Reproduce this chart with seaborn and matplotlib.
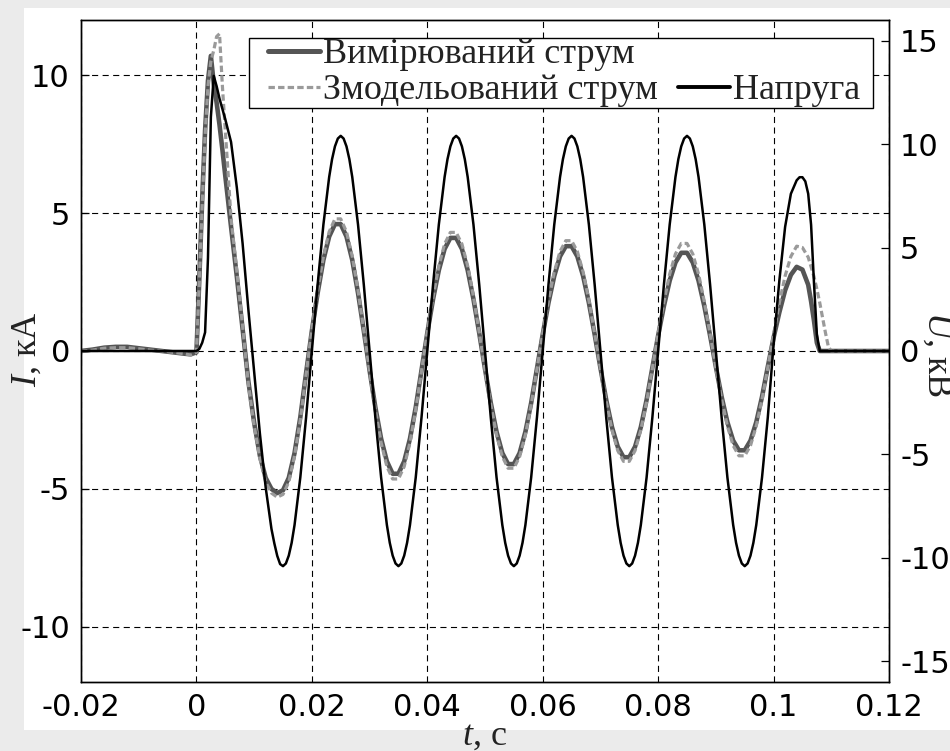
import numpy as np
import pandas as pd
import matplotlib
matplotlib.use("Agg")
import matplotlib.pyplot as plt
import seaborn as sns
from matplotlib.lines import Line2D
from matplotlib.patches import Rectangle

# ---------------- data ----------------
# currents, time in ms
t_ms = [-20, -18, -16, -14, -12, -10, -8, -6, -4, -2, -1, 0,
        0.5, 1, 1.5, 2, 2.5, 3, 3.5, 4, 4.5, 5,
        6, 7, 8, 9, 10, 11, 12, 13, 14, 15, 16, 17, 18, 19,
        20, 21, 22, 23, 24, 25, 26, 27, 28, 29,
        30, 31, 32, 33, 34, 35, 36, 37, 38, 39,
        40, 41, 42, 43, 44, 45, 46, 47, 48, 49,
        50, 51, 52, 53, 54, 55, 56, 57, 58, 59,
        60, 61, 62, 63, 64, 65, 66, 67, 68, 69,
        70, 71, 72, 73, 74, 75, 76, 77, 78, 79,
        80, 81, 82, 83, 84, 85, 86, 87, 88, 89,
        90, 91, 92, 93, 94, 95, 96, 97, 98, 99,
        100, 101, 102, 103, 104, 105, 106,
        106.5, 107, 107.5, 108, 108.5, 109, 109.5, 110, 112, 115, 120]

i_measured = [0.0, 0.05, 0.12, 0.15, 0.15, 0.1, 0.05, 0.0, -0.05, -0.1, -0.12, -0.05,
              2.6, 5.5, 8.0, 9.8, 10.7, 9.7, 9.0, 8.2, 7.3, 6.35,
              4.5, 2.7, 0.8, -1.1, -2.6, -3.8, -4.6, -5.0, -5.15, -5.05, -4.6, -3.7, -2.4, -0.8,
              0.73, 2.1, 3.3, 4.15, 4.6, 4.6, 4.15, 3.3, 2.1, 0.73,
              -0.7, -2.04, -3.18, -4.0, -4.45, -4.45, -4.0, -3.18, -2.04, -0.7,
              0.65, 1.88, 2.93, 3.7, 4.1, 4.1, 3.7, 2.93, 1.88, 0.65,
              -0.65, -1.88, -2.93, -3.7, -4.1, -4.1, -3.7, -2.93, -1.88, -0.65,
              0.6, 1.75, 2.72, 3.43, 3.8, 3.8, 3.43, 2.72, 1.75, 0.6,
              -0.61, -1.77, -2.76, -3.47, -3.85, -3.85, -3.47, -2.76, -1.77, -0.61,
              0.56, 1.63, 2.55, 3.21, 3.56, 3.56, 3.21, 2.55, 1.63, 0.56,
              -0.57, -1.66, -2.58, -3.25, -3.6, -3.6, -3.25, -2.58, -1.66, -0.57,
              0.48, 1.4, 2.2, 2.76, 3.05, 2.95, 2.4,
              1.8, 1.1, 0.3, 0, 0, 0, 0, 0, 0, 0, 0]

i_modelled = [0.0, 0.03, 0.1, 0.12, 0.12, 0.08, 0.03, 0.0, -0.05, -0.1, -0.15, -0.05,
              2.5, 5.3, 7.8, 9.6, 10.5, 10.9, 11.4, 11.5, 9.6, 8.0,
              4.8, 2.9, 0.9, -1.2, -2.7, -3.9, -4.75, -5.15, -5.3, -5.2, -4.75, -3.8, -2.5, -0.85,
              0.76, 2.2, 3.43, 4.32, 4.79, 4.79, 4.32, 3.43, 2.2, 0.76,
              -0.73, -2.13, -3.32, -4.19, -4.64, -4.64, -4.19, -3.32, -2.13, -0.73,
              0.68, 1.97, 3.08, 3.88, 4.3, 4.3, 3.88, 3.08, 1.97, 0.68,
              -0.67, -1.95, -3.04, -3.83, -4.25, -4.25, -3.83, -3.04, -1.95, -0.67,
              0.63, 1.84, 2.86, 3.61, 4.0, 4.0, 3.61, 2.86, 1.84, 0.63,
              -0.63, -1.84, -2.86, -3.61, -4.0, -4.0, -3.61, -2.86, -1.84, -0.63,
              0.62, 1.79, 2.79, 3.52, 3.9, 3.9, 3.52, 2.79, 1.79, 0.62,
              -0.6, -1.75, -2.72, -3.43, -3.8, -3.8, -3.43, -2.72, -1.75, -0.6,
              0.6, 1.75, 2.72, 3.43, 3.8, 3.75, 3.4,
              3.05, 2.7, 2.25, 1.75, 1.2, 0.65, 0.15, 0, 0, 0, 0]

# voltage, time in ms (denser around the crests)
t_u_ms = [-20, -10, 0,
          0.5, 1, 1.5, 2, 2.5, 3, 3.5, 4, 4.5, 5,
          6, 7, 8, 9, 10, 11, 12, 13, 13.5, 14, 14.5, 15, 15.5, 16, 16.5, 17, 18, 19,
          20, 21, 22, 23, 23.5, 24, 24.5, 25, 25.5, 26, 26.5, 27, 28, 29,
          30, 31, 32, 33, 33.5, 34, 34.5, 35, 35.5, 36, 36.5, 37, 38, 39,
          40, 41, 42, 43, 43.5, 44, 44.5, 45, 45.5, 46, 46.5, 47, 48, 49,
          50, 51, 52, 53, 53.5, 54, 54.5, 55, 55.5, 56, 56.5, 57, 58, 59,
          60, 61, 62, 63, 63.5, 64, 64.5, 65, 65.5, 66, 66.5, 67, 68, 69,
          70, 71, 72, 73, 73.5, 74, 74.5, 75, 75.5, 76, 76.5, 77, 78, 79,
          80, 81, 82, 83, 83.5, 84, 84.5, 85, 85.5, 86, 86.5, 87, 88, 89,
          90, 91, 92, 93, 93.5, 94, 94.5, 95, 95.5, 96, 96.5, 97, 98, 99,
          100, 101, 102, 103, 104, 104.5, 105, 105.5, 106,
          106.5, 107, 107.5, 108, 110, 120]

u_voltage = [0, 0, 0,
             0.1, 0.4, 0.9, 4.5, 11.3, 13.3, 12.8, 12.2, 11.7, 11.2,
             10.1, 7.9, 5.2, 2.0, -1.0, -4.0, -6.6, -8.6, -9.3, -9.9, -10.3, -10.4, -10.27, -9.89, -9.27, -8.41, -6.11, -3.21,
             0, 3.21, 6.11, 8.41, 9.27, 9.89, 10.27, 10.4, 10.27, 9.89, 9.27, 8.41, 6.11, 3.21,
             0, -3.21, -6.11, -8.41, -9.27, -9.89, -10.27, -10.4, -10.27, -9.89, -9.27, -8.41, -6.11, -3.21,
             0, 3.21, 6.11, 8.41, 9.27, 9.89, 10.27, 10.4, 10.27, 9.89, 9.27, 8.41, 6.11, 3.21,
             0, -3.21, -6.11, -8.41, -9.27, -9.89, -10.27, -10.4, -10.27, -9.89, -9.27, -8.41, -6.11, -3.21,
             0, 3.21, 6.11, 8.41, 9.27, 9.89, 10.27, 10.4, 10.27, 9.89, 9.27, 8.41, 6.11, 3.21,
             0, -3.21, -6.11, -8.41, -9.27, -9.89, -10.27, -10.4, -10.27, -9.89, -9.27, -8.41, -6.11, -3.21,
             0, 3.21, 6.11, 8.41, 9.27, 9.89, 10.27, 10.4, 10.27, 9.89, 9.27, 8.41, 6.11, 3.21,
             0, -3.21, -6.11, -8.41, -9.27, -9.89, -10.27, -10.4, -10.27, -9.89, -9.27, -8.41, -6.11, -3.21,
             0.3, 3.4, 6.0, 7.6, 8.25, 8.4, 8.4, 8.2, 7.6,
             6.1, 3.3, 0.8, 0, 0, 0]

x_ticks = [-0.02, 0, 0.02, 0.04, 0.06, 0.08, 0.1, 0.12]
x_ticklabels = ["-0.02", "0", "0.02", "0.04", "0.06", "0.08", "0.1", "0.12"]
yl_ticks = [-10, -5, 0, 5, 10]
yl_ticklabels = ["-10", "-5", "0", "5", "10"]
yr_ticks = [-15, -10, -5, 0, 5, 10, 15]
yr_ticklabels = ["-15", "-10", "-5", "0", "5", "10", "15"]

legend_labels = ["Вимірюваний струм", "Змодельований струм", "", "Напруга"]

# ---------------- style ----------------
sns.set_theme(style="white")
plt.rcParams["font.family"] = ["DejaVu Sans"]
plt.rcParams["mathtext.fontset"] = "custom"
plt.rcParams["mathtext.rm"] = "Liberation Serif"
plt.rcParams["mathtext.it"] = "Liberation Serif:italic"

df_i = pd.DataFrame({
    "t": np.array(t_ms) / 1000.0,
    "measured": i_measured,
    "modelled": i_modelled,
})
df_u = pd.DataFrame({"t": np.array(t_u_ms) / 1000.0, "voltage": u_voltage})

W, H = 950, 751
fig = plt.figure(figsize=(W / 100, H / 100), dpi=100, facecolor="#ebebeb")
fig.patches.append(Rectangle((24 / W, 21 / H), 926 / W, 722 / H,
                             transform=fig.transFigure, facecolor="white",
                             edgecolor="none", zorder=-5))

ax = fig.add_axes([81 / W, 69 / H, 808 / W, 662 / H])
ax.set_facecolor("white")

c_meas = "#555555"
c_model = "#9a9a9a"

sns.lineplot(data=df_i, x="t", y="measured", ax=ax, color=c_meas, lw=3.3,
             estimator=None, sort=False, legend=False)
sns.lineplot(data=df_i, x="t", y="modelled", ax=ax, color=c_model, lw=2.3,
             estimator=None, sort=False, legend=False)
ax.lines[-1].set_dashes([2.0, 1.0])

ax2 = ax.twinx()
sns.lineplot(data=df_u, x="t", y="voltage", ax=ax2, color="black", lw=1.8,
             estimator=None, sort=False, legend=False)

ax.set_xlim(-0.02, 0.12)
ax.set_ylim(-12, 12)
ax2.set_ylim(-16, 16)

ax.set_xticks(x_ticks)
ax.set_xticklabels(x_ticklabels)
ax.set_yticks(yl_ticks)
ax.set_yticklabels(yl_ticklabels)
ax2.set_yticks(yr_ticks)
ax2.set_yticklabels(yr_ticklabels)

ax.set_xlabel("")
ax.set_ylabel("")
ax2.set_ylabel("")

ax.set_axisbelow(True)
ax.grid(True, color="black", linestyle=(0, (5.5, 4.0)), linewidth=0.8)

for a in (ax, ax2):
    a.tick_params(direction="in", length=6, width=0.9, colors="black",
                  labelsize=22, pad=8)
    for s in a.spines.values():
        s.set_visible(True)
        s.set_color("black")
        s.set_linewidth(1.0)
ax.tick_params(axis="x", pad=8)

# axis labels
fig.text(27 / W, 1 - 349 / H, "$I$, кА", rotation=90, ha="center", va="center",
         fontsize=26, family="Liberation Serif", color="#222222")
fig.text(937 / W, 1 - 354 / H, "$U$, кВ", rotation=-90, ha="center", va="center",
         fontsize=26, family="Liberation Serif", color="#222222")
fig.text(485 / W, 1 - 736 / H, "$t$, с", ha="center", va="center",
         fontsize=26, family="Liberation Serif", color="#222222")

# legend: own frame + frameless legend
ax2.add_patch(Rectangle((249 / W, 1 - 108 / H), (873 - 249) / W, 70 / H,
                        transform=fig.transFigure, facecolor="white",
                        edgecolor="black", lw=1.0, zorder=4.5, clip_on=False))
handles = [
    Line2D([], [], color=c_meas, lw=3.6),
    Line2D([], [], color=c_model, lw=2.3, dashes=[2.0, 1.0]),
    Line2D([], [], color="none"),
    Line2D([], [], color="black", lw=2.8),
]
leg = ax2.legend(handles, legend_labels, ncol=2, loc="upper left",
                 bbox_to_anchor=(268 / W, 1 - 38 / H),
                 bbox_transform=fig.transFigure, borderaxespad=0,
                 prop={"family": "Liberation Serif", "size": 26},
                 frameon=False, borderpad=0, labelspacing=0.08,
                 handlelength=1.45, handletextpad=0.08, columnspacing=0.55)
leg.set_zorder(5)
for txt in leg.get_texts():
    txt.set_color("#222222")

fig.savefig("out.png", dpi=100, facecolor=fig.get_facecolor())
